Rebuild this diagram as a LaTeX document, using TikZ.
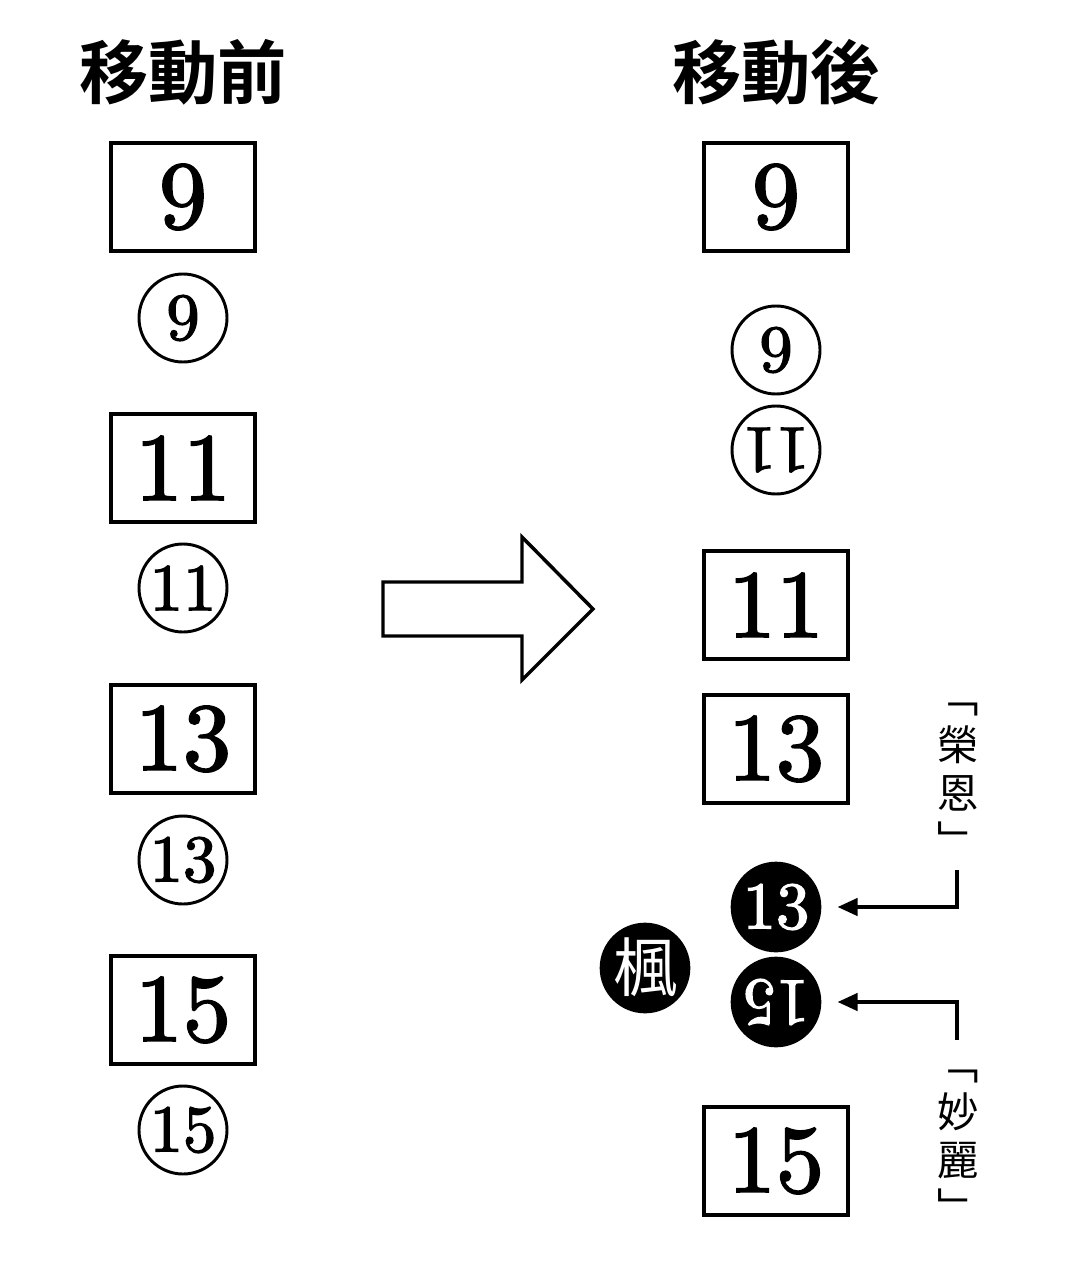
\documentclass[tikz,border=0pt]{standalone}
\usepackage{fontspec}
\newfontfamily\cjk{Noto Sans CJK JP}
\newfontfamily\cjkb{Noto Sans CJK JP Bold}
\newfontfamily\numf{lmroman10-regular.otf}[FakeBold=2]
\usetikzlibrary{arrows.meta}
\tikzset{
  seat/.style={draw, line width=2.4pt, minimum width=108pt, minimum height=81pt, inner sep=0pt, font=\numf\fontsize{72}{72}\selectfont},
  pcirc/.style={draw, circle, line width=2.2pt, minimum size=66pt, inner sep=0pt, font=\numf\fontsize{50}{50}\selectfont},
  bcirc/.style={fill=black, circle, minimum size=68pt, inner sep=0pt, text=white, font=\numf\fontsize{50}{50}\selectfont},
  title/.style={inner sep=0pt, font=\cjkb\fontsize{52}{52}\selectfont},
  vlab/.style={inner sep=0pt, align=center, font=\cjk\fontsize{31}{36}\selectfont},
  conn/.style={line width=2.6pt, -{Triangle[length=15pt,width=13pt]}, shorten >=12pt},
}
\begin{document}
\begin{tikzpicture}[x=0.75pt,y=-0.75pt]
\useasboundingbox (0,0) rectangle (1078,1284);
% titles
\node[title] (tL) at (183,72) {移動前};
\node[title] (tR) at (776,72) {移動後};
% left column
\node[seat] (L9) at (183,197) {9};
\node[pcirc] (l9) at (183,318) {9};
\node[seat] (L11) at (183,468) {11};
\node[pcirc] (l11) at (183,588) {11};
\node[seat] (L13) at (183,739) {13};
\node[pcirc] (l13) at (183,860) {13};
\node[seat] (L15) at (183,1010) {15};
\node[pcirc] (l15) at (183,1130) {15};
% block arrow
\draw[line width=2.6pt, line join=miter] (383,582) -- (522,582) -- (522,537) -- (593,609) -- (522,680) -- (522,636) -- (383,636) -- cycle;
% right column
\node[seat] (R9) at (776,197) {9};
\node[pcirc] (r9) at (776,350) {9};
\node[pcirc] (r11) at (776,450) {\rotatebox{180}{11}};
\node[seat] (R11) at (776,605) {11};
\node[seat] (R13) at (776,749) {13};
\node[bcirc] (b13) at (776,907) {13};
\node[bcirc] (b15) at (776,1002) {\rotatebox{180}{15}};
\node[bcirc, font=\cjk\fontsize{48}{48}\selectfont] (kaede) at (645,968) {楓};
\node[seat] (R15) at (776,1161) {15};
% labels
\node[vlab] (eien) at (958,780) {﹁\\榮\\恩\\﹂};
\node[vlab] (mr) at (958,1147) {﹁\\妙\\麗\\﹂};
\coordinate (e1) at (957,870);
\coordinate (m1) at (957,1040);
\draw[conn] (e1) |- (b13.east);
\draw[conn] (m1) |- (b15.east);
\end{tikzpicture}
\end{document}
